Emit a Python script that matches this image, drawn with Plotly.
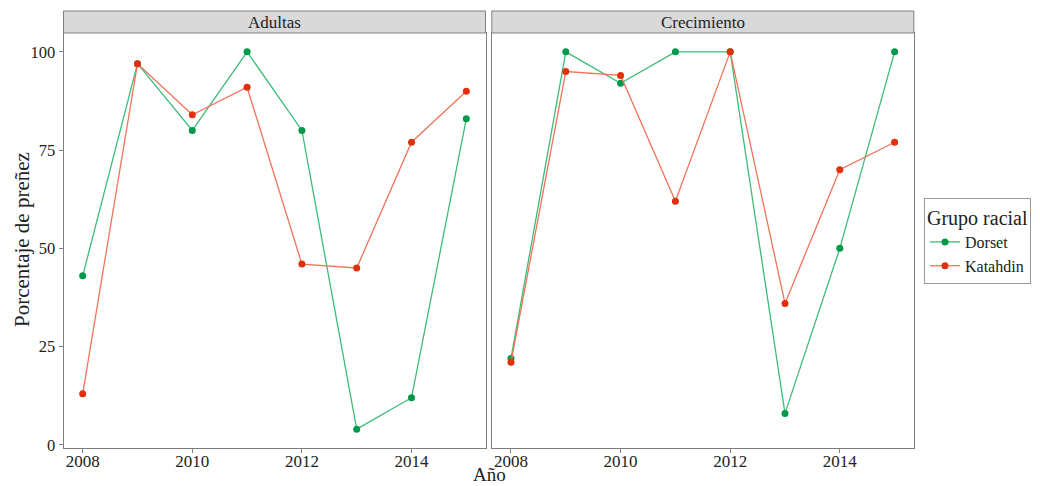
import plotly.graph_objects as go

years = [2008, 2009, 2010, 2011, 2012, 2013, 2014, 2015]
adultas_dorset = [43, 97, 80, 100, 80, 4, 12, 83]
adultas_katahdin = [13, 97, 84, 91, 46, 45, 77, 90]
crec_dorset = [22, 100, 92, 100, 100, 8, 50, 100]
crec_katahdin = [21, 95, 94, 62, 100, 36, 70, 77]
panels = ["Adultas", "Crecimiento"]
x_ticks = [2008, 2010, 2012, 2014]
y_ticks = [0, 25, 50, 75, 100]

OFF = 8  # page body margin
W, H = 1040 - OFF, 486 - OFF
FONT = "Liberation Serif, Times New Roman, serif"
GREEN_M, GREEN_L = "#00994a", "#3dbb78"
RED_M, RED_L = "#e0300c", "#f0735a"

def px_x(p):
    return (p - OFF) / W

def px_y(p):
    return 1 - (p - OFF) / H

fig = go.Figure()

series = [
    ("x", "y", adultas_dorset, adultas_katahdin, True),
    ("x2", "y2", crec_dorset, crec_katahdin, False),
]
for xa, ya, d, k, show in series:
    fig.add_trace(go.Scatter(x=years, y=d, xaxis=xa, yaxis=ya, mode="lines+markers",
                             name="Dorset", legendgroup="Dorset", showlegend=show,
                             line=dict(color=GREEN_L, width=1.3),
                             marker=dict(color=GREEN_M, size=7)))
    fig.add_trace(go.Scatter(x=years, y=k, xaxis=xa, yaxis=ya, mode="lines+markers",
                             name="Katahdin", legendgroup="Katahdin", showlegend=show,
                             line=dict(color=RED_L, width=1.3),
                             marker=dict(color=RED_M, size=7)))

xr = [2007.65, 2015.35]
yr = [-0.8, 104.8]
ydom = [px_y(448), px_y(33)]
axis_common = dict(showgrid=False, zeroline=False, showline=True, mirror=True, automargin=False,
                   linecolor="#7f7f7f", linewidth=1, ticks="outside", ticklen=4,
                   tickcolor="#7f7f7f", tickfont=dict(family=FONT, size=17, color="#222222"))

fig.update_layout(
    width=W, height=H,
    margin=dict(l=0, r=0, t=0, b=0, pad=0, autoexpand=False),
    plot_bgcolor="white", paper_bgcolor="white",
    font=dict(family=FONT, color="#222222"),
    xaxis=dict(domain=[px_x(63.5), px_x(485.5)], range=xr, tickvals=x_ticks, anchor="y",
               ticklabelstandoff=-6, **axis_common),
    xaxis2=dict(domain=[px_x(491.8), px_x(913.8)], range=xr, tickvals=x_ticks, anchor="y2",
                ticklabelstandoff=-6, **axis_common),
    yaxis=dict(domain=ydom, range=yr, tickvals=y_ticks, anchor="x",
               **{**axis_common, "tickfont": dict(family=FONT, size=16.5, color="#222222")}),
    yaxis2=dict(domain=ydom, range=yr, tickvals=y_ticks, anchor="x2", showticklabels=False,
                **{**axis_common, "ticks": ""}),
    legend=dict(x=px_x(924), y=px_y(198), xanchor="left", yanchor="top",
                bordercolor="#9a9a9a", borderwidth=1, bgcolor="white",
                font=dict(family=FONT, size=16, color="#222222"),
                title=dict(text="Grupo racial", font=dict(family=FONT, size=20, color="#222222")),
                tracegroupgap=0, itemwidth=30),
    showlegend=True,
)

# facet strips
strips = [(63.5, 485.5), (491.8, 913.8)]
for (x0, x1), label in zip(strips, panels):
    fig.add_shape(type="rect", xref="paper", yref="paper",
                  x0=px_x(x0), x1=px_x(x1), y0=px_y(33), y1=px_y(11),
                  fillcolor="#d9d9d9", line=dict(color="#7f7f7f", width=1))
    fig.add_annotation(xref="paper", yref="paper", x=px_x((x0 + x1) / 2), y=px_y(22.5),
                       text=label, showarrow=False, xanchor="center", yanchor="middle",
                       font=dict(family=FONT, size=17, color="#222222"))

fig.add_annotation(xref="paper", yref="paper", x=px_x(22), y=px_y(240), text="Porcentaje de preñez",
                   textangle=-90, showarrow=False, xanchor="center", yanchor="middle",
                   font=dict(family=FONT, size=21, color="#222222"))
fig.add_annotation(xref="paper", yref="paper", x=px_x(489), y=px_y(486), text="Año",
                   showarrow=False, xanchor="center", yanchor="bottom", yshift=0,
                   font=dict(family=FONT, size=19), borderpad=0)

fig.write_html("out.html")
